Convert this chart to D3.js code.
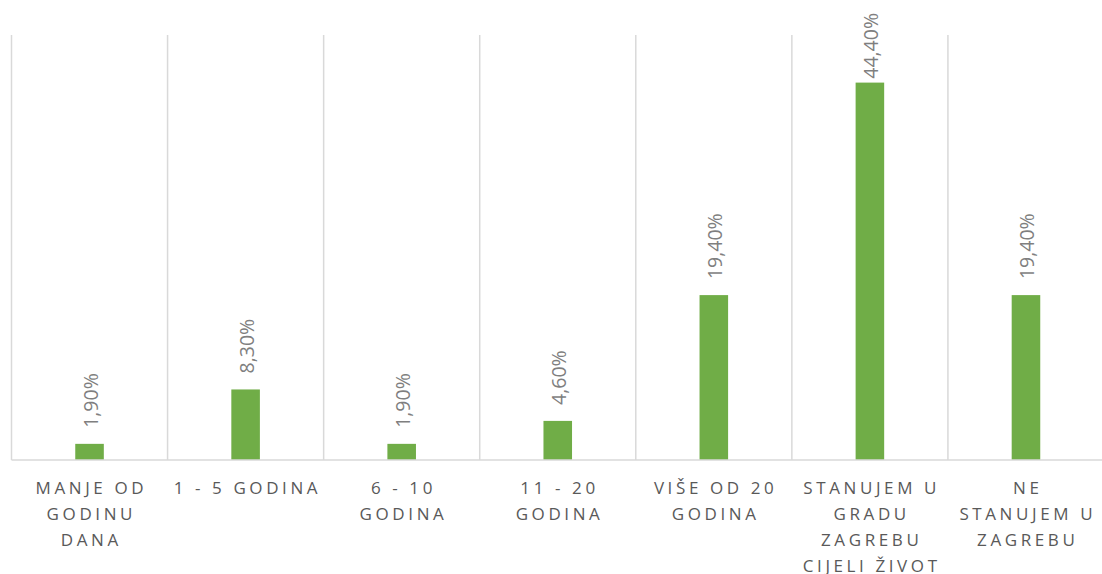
<!DOCTYPE html>
<html>
<head>
<meta charset="utf-8">
<script src="https://cdn.jsdelivr.net/npm/d3@7"></script>
<style>
  body { margin: 0; background: #fff; }
  .cat { font-family: "Open Sans", sans-serif; font-size: 17px; fill: #595959; letter-spacing: 3.6px; }
  .val { font-family: "Open Sans", sans-serif; font-size: 19.5px; fill: #7f7f7f; }
</style>
</head>
<body>
<div class="chart"></div>
<script>
// categories (line breaks as in the original labels) and values in %
var categories = ["MANJE OD\nGODINU\nDANA", "1 - 5 GODINA", "6 - 10\nGODINA", "11 - 20\nGODINA",
  "VIŠE OD 20\nGODINA", "STANUJEM U\nGRADU\nZAGREBU\nCIJELI ŽIVOT", "NE\nSTANUJEM U\nZAGREBU"];
var values = [1.9, 8.3, 1.9, 4.6, 19.4, 44.4, 19.4];
var valueLabels = ["1,90%", "8,30%", "1,90%", "4,60%", "19,40%", "44,40%", "19,40%"];

var svgWidth = 1102, svgHeight = 574;
var margin = {top: 35, right: -2, bottom: 114, left: 11.5};
var width = svgWidth - margin.left - margin.right;
var height = svgHeight - margin.top - margin.bottom;

var svg = d3.select(".chart").append("svg").attr("width", svgWidth).attr("height", svgHeight);
var chartGroup = svg.append("g").attr("transform", `translate(${margin.left}, ${margin.top})`);

var xScale = d3.scaleBand().domain(d3.range(categories.length)).range([0, width]).paddingInner(0).paddingOuter(0);
var yScale = d3.scaleLinear().domain([0, 50]).range([height, 0]);
var barW = xScale.bandwidth() * 0.183;

// vertical separators between categories
var edges = d3.range(categories.length + 1);
chartGroup.selectAll(".sep").data(edges).enter().append("line")
  .attr("x1", d => d * xScale.step()).attr("x2", d => d * xScale.step())
  .attr("y1", 0).attr("y2", height)
  .attr("stroke", "#d9d9d9").attr("stroke-width", 1.5);

// bars
chartGroup.selectAll("rect").data(values).enter().append("rect")
  .attr("x", (d, i) => xScale(i) + xScale.bandwidth() / 2 - barW / 2)
  .attr("y", d => yScale(d))
  .attr("width", barW)
  .attr("height", d => height - yScale(d))
  .attr("fill", "#70ad47");

// baseline
chartGroup.append("line").attr("x1", 0).attr("x2", width).attr("y1", height).attr("y2", height)
  .attr("stroke", "#d9d9d9").attr("stroke-width", 1.5);

// value labels, rotated; pushed down if they would leave the top of the picture
var valText = chartGroup.selectAll(".val").data(values).enter().append("text")
  .attr("class", "val")
  .attr("text-anchor", "start")
  .text((d, i) => valueLabels[i]);
valText.attr("transform", function(d, i) {
  var len = this.getComputedTextLength();
  var y = Math.max(yScale(d) - 16, len - margin.top + 13);
  return `translate(${xScale(i) + xScale.bandwidth() / 2 + 8}, ${y}) rotate(-90)`;
});

// category labels
var catText = chartGroup.selectAll(".cat").data(categories).enter().append("text")
  .attr("class", "cat")
  .attr("text-anchor", "middle")
  .attr("transform", (d, i) => `translate(${xScale(i) + xScale.bandwidth() / 2 + 1.8}, ${height + 34})`);
catText.selectAll("tspan").data(d => d.split("\n")).enter().append("tspan")
  .attr("x", 0).attr("dy", (d, i) => i === 0 ? 0 : 26)
  .text(d => d);
</script>
</body>
</html>
